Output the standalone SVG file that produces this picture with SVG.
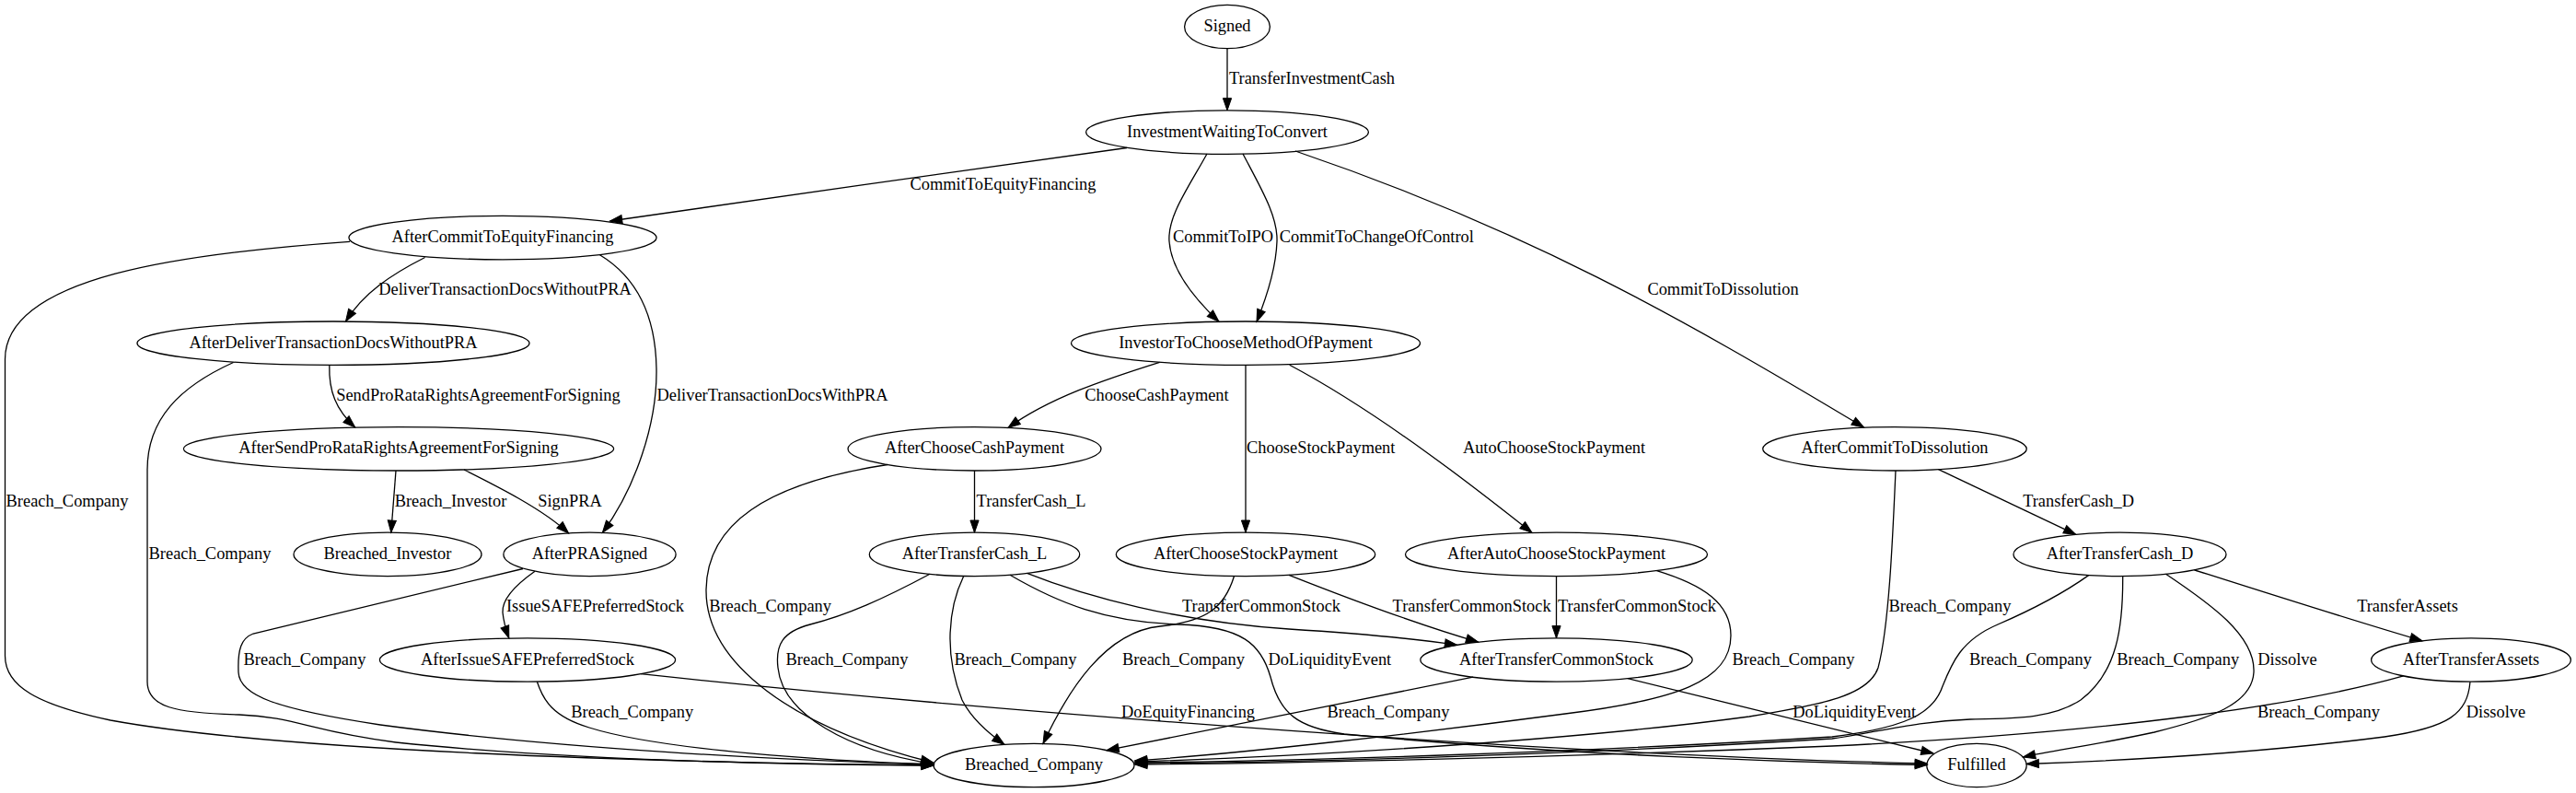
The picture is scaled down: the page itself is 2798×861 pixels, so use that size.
<svg xmlns="http://www.w3.org/2000/svg" width="2798" height="861" viewBox="0 0 2798 861">
<style>
.node ellipse{fill:none;stroke:#000;stroke-width:1.3}
text{font-family:"Liberation Serif","Times New Roman",serif;font-size:18.4px;text-anchor:middle;fill:#000}
#edges path{fill:none;stroke:#000;stroke-width:1.3;marker-end:url(#arr)}
</style>
<defs>
<marker id="arr" markerUnits="userSpaceOnUse" viewBox="0 0 14 10" markerWidth="14" markerHeight="10" refX="13.2" refY="4.6" orient="auto" overflow="visible">
<path d="M0,0 L13.2,4.6 L0,9.2 z" fill="#000" stroke="#000" stroke-width="1"/>
</marker>
</defs>
<rect width="2798" height="861" fill="#fff"/>
<g id="edges">
<g id="e1"><path d="M1333,52.7 L1333,119.9"/><text x="1425" y="91.3">TransferInvestmentCash</text></g>
<g id="e2"><path d="M1224,160.5 C1060,183 830,216 662.5,240"/><text x="1089.5" y="205.9">CommitToEquityFinancing</text></g>
<g id="e3"><path d="M1311,167 C1290,205 1268,235 1270,262 C1272,292 1295,322 1324,349.3"/><text x="1328.5" y="263.1">CommitToIPO</text></g>
<g id="e4"><path d="M1350,167 C1370,205 1388,235 1387,262 C1386,292 1376,322 1365,349.3"/><text x="1495.3" y="263.1">CommitToChangeOfControl</text></g>
<g id="e5"><path d="M1407,164 C1657,249 1824.5,344 2024.5,464"/><text x="1871.5" y="320.4">CommitToDissolution</text></g>
<g id="e6"><path d="M461.6,279.5 C425,298 395,318 375.5,349"/><text x="548.5" y="320.4">DeliverTransactionDocsWithoutPRA</text></g>
<g id="e7"><path d="M651.5,276.7 C690,300 712,340 713,400 C714,460 690,530 654.4,578.4"/><text x="839" y="435">DeliverTransactionDocsWithPRA</text></g>
<g id="e8"><path d="M380,262.3 C200,275 5.5,300 5.5,390 L5.5,712 C5.5,745 40,765 120,782 C300,815 700,828 1014,831"/><text x="73" y="549.6">Breach_Company</text></g>
<g id="e9"><path d="M357.8,396.4 C357,425 365,445 385.7,464"/><text x="519.5" y="435">SendProRataRightsAgreementForSigning</text></g>
<g id="e10"><path d="M253.5,393.5 C195,420 160,455 160,510 L160,740 C160,768 190,774 260,776 C320,778 340,795 430,806 C620,826 850,830 1014,831"/><text x="228" y="606.9">Breach_Company</text></g>
<g id="e11"><path d="M430,511 L424.8,578.2"/><text x="489.5" y="549.6">Breach_Investor</text></g>
<g id="e12"><path d="M504,510 C540,528 590,553 617.6,579"/><text x="619" y="549.6">SignPRA</text></g>
<g id="e13"><path d="M581,620.2 C560,635 545,650 546,665 C547,675 550,685 552.8,692.8"/><text x="646.5" y="664.2">IssueSAFEPreferredStock</text></g>
<g id="e14"><path d="M568,617.5 L275,688 C262,693 258,705 259,730 C260,755 300,770 413,787 C600,812 850,826 1014,830"/><text x="331" y="721.5">Breach_Company</text></g>
<g id="e15"><path d="M583.4,740.2 C590,760 600,778 640,790 C720,815 900,826 1014,830"/><text x="686.7" y="778.8">Breach_Company</text></g>
<g id="e16"><path d="M696,731.7 C1100,775 1700,820 2093.3,829"/><text x="1290.5" y="778.8">DoEquityFinancing</text></g>
<g id="e17"><path d="M1259.6,393.3 C1200,412 1140,432 1095,464.4"/><text x="1256.5" y="435">ChooseCashPayment</text></g>
<g id="e18"><path d="M1353,396.4 L1353,578.2"/><text x="1434.7" y="492.3">ChooseStockPayment</text></g>
<g id="e19"><path d="M1400.7,396.3 C1500.7,449.3 1610,535.6 1664,578.4"/><text x="1688" y="492.3">AutoChooseStockPayment</text></g>
<g id="e20"><path d="M1058.5,511 L1058.5,578.2"/><text x="1120" y="549.6">TransferCash_L</text></g>
<g id="e21"><path d="M964,504.5 C830,525 768,570 767,640 C766,720 860,790 1013.6,828"/><text x="836.6" y="664.2">Breach_Company</text></g>
<g id="e22"><path d="M1010,623.3 C960,650 920,668 880,678 C850,686 842,700 845,725 C850,775 920,815 1014,829.5"/><text x="920" y="721.5">Breach_Company</text></g>
<g id="e23"><path d="M1046.7,625.5 C1030,660 1025,710 1045,760 C1055,780 1072,795 1091,808.3"/><text x="1103" y="721.5">Breach_Company</text></g>
<g id="e24"><path d="M1115.5,622.4 C1180,648 1280,675 1400,683 C1480,688 1540,694 1582.6,700.3"/><text x="1370" y="664.2">TransferCommonStock</text></g>
<g id="e25"><path d="M1097,624.2 C1150,655 1200,675 1280,678 C1350,680 1370,700 1380,735 C1390,775 1410,790 1460,797 C1700,820 1950,828 2093.3,830.5"/><text x="1444.3" y="721.5">DoLiquidityEvent</text></g>
<g id="e26"><path d="M1400,624.3 C1460,648 1540,678 1605.6,697.1"/><text x="1598.6" y="664.2">TransferCommonStock</text></g>
<g id="e27"><path d="M1340.5,625.5 C1330,660 1310,675 1260,680 C1200,686 1160,750 1133,807.4"/><text x="1285.5" y="721.5">Breach_Company</text></g>
<g id="e28"><path d="M1690.5,625.6 L1690.5,692.8"/><text x="1778" y="664.2">TransferCommonStock</text></g>
<g id="e29"><path d="M1799.5,619.6 C1850,635 1880,655 1880,690 C1880,740 1820,760 1700,775 C1550,795 1350,818 1232.7,826"/><text x="1948" y="721.5">Breach_Company</text></g>
<g id="e30"><path d="M1600,735.2 L1202,814.7"/><text x="1508" y="778.8">Breach_Company</text></g>
<g id="e31"><path d="M1768,736.7 L2100,818"/><text x="2014.2" y="778.8">DoLiquidityEvent</text></g>
<g id="e32"><path d="M2105.5,509.7 L2254.7,580.3"/><text x="2257.6" y="549.6">TransferCash_D</text></g>
<g id="e33"><path d="M2059,511 C2056,580 2052,680 2040,725 C2030,755 1980,765 1900,778 C1700,805 1400,822 1232.7,827"/><text x="2118" y="664.2">Breach_Company</text></g>
<g id="e34"><path d="M2268.6,624.6 C2240,645 2200,665 2170,678 C2130,695 2120,720 2110,745 C2100,775 2070,790 1990,800 C1700,818 1400,826 1232.7,828"/><text x="2205.5" y="721.5">Breach_Company</text></g>
<g id="e35"><path d="M2305.7,625.6 C2306,680 2300,730 2260,760 C2230,780 2190,780 2140,781 C2080,783 2040,795 1990,802 C1700,820 1400,828 1232.7,829"/><text x="2365.7" y="721.5">Breach_Company</text></g>
<g id="e36"><path d="M2352.5,623.2 C2400,655 2450,690 2448,730 C2446,765 2400,780 2340,795 C2280,808 2230,815 2197.5,822"/><text x="2484.5" y="721.5">Dissolve</text></g>
<g id="e37"><path d="M2383.4,618.8 C2450,640 2550,672 2631,695.8"/><text x="2615" y="664.2">TransferAssets</text></g>
<g id="e38"><path d="M2610.6,733.9 C2500,765 2300,795 1990,810 C1700,822 1400,829 1232.7,830"/><text x="2518.5" y="778.8">Breach_Company</text></g>
<g id="e39"><path d="M2683,740.2 C2680,775 2660,790 2590,800 C2450,818 2300,826 2201.2,829.5"/><text x="2711" y="778.8">Dissolve</text></g>
</g>
<g id="n_Signed" class="node"><ellipse cx="1333" cy="29" rx="46.4" ry="23.7"/><text x="1333" y="34">Signed</text></g>
<g id="n_InvestmentWaitingToConvert" class="node"><ellipse cx="1333" cy="143.6" rx="153.4" ry="23.7"/><text x="1333" y="148.6">InvestmentWaitingToConvert</text></g>
<g id="n_AfterCommitToEquityFinancing" class="node"><ellipse cx="546" cy="258.1" rx="167.1" ry="23.7"/><text x="546" y="263.1">AfterCommitToEquityFinancing</text></g>
<g id="n_AfterDeliverTransactionDocsWithoutPRA" class="node"><ellipse cx="362" cy="372.7" rx="213" ry="23.7"/><text x="362" y="377.7">AfterDeliverTransactionDocsWithoutPRA</text></g>
<g id="n_InvestorToChooseMethodOfPayment" class="node"><ellipse cx="1353" cy="372.7" rx="189.5" ry="23.7"/><text x="1353" y="377.7">InvestorToChooseMethodOfPayment</text></g>
<g id="n_AfterSendProRataRightsAgreementForSigning" class="node"><ellipse cx="433" cy="487.3" rx="233.6" ry="23.7"/><text x="433" y="492.3">AfterSendProRataRightsAgreementForSigning</text></g>
<g id="n_AfterChooseCashPayment" class="node"><ellipse cx="1058.5" cy="487.3" rx="137.5" ry="23.7"/><text x="1058.5" y="492.3">AfterChooseCashPayment</text></g>
<g id="n_AfterCommitToDissolution" class="node"><ellipse cx="2058" cy="487.3" rx="143.3" ry="23.7"/><text x="2058" y="492.3">AfterCommitToDissolution</text></g>
<g id="n_Breached_Investor" class="node"><ellipse cx="421" cy="601.9" rx="102" ry="23.7"/><text x="421" y="606.9">Breached_Investor</text></g>
<g id="n_AfterPRASigned" class="node"><ellipse cx="640.5" cy="601.9" rx="93.6" ry="23.7"/><text x="640.5" y="606.9">AfterPRASigned</text></g>
<g id="n_AfterTransferCash_L" class="node"><ellipse cx="1058.5" cy="601.9" rx="114.2" ry="23.7"/><text x="1058.5" y="606.9">AfterTransferCash_L</text></g>
<g id="n_AfterChooseStockPayment" class="node"><ellipse cx="1353" cy="601.9" rx="140.7" ry="23.7"/><text x="1353" y="606.9">AfterChooseStockPayment</text></g>
<g id="n_AfterAutoChooseStockPayment" class="node"><ellipse cx="1690.5" cy="601.9" rx="164" ry="23.7"/><text x="1690.5" y="606.9">AfterAutoChooseStockPayment</text></g>
<g id="n_AfterTransferCash_D" class="node"><ellipse cx="2302.5" cy="601.9" rx="115.5" ry="23.7"/><text x="2302.5" y="606.9">AfterTransferCash_D</text></g>
<g id="n_AfterIssueSAFEPreferredStock" class="node"><ellipse cx="573" cy="716.5" rx="160.6" ry="23.7"/><text x="573" y="721.5">AfterIssueSAFEPreferredStock</text></g>
<g id="n_AfterTransferCommonStock" class="node"><ellipse cx="1690.5" cy="716.5" rx="147.7" ry="23.7"/><text x="1690.5" y="721.5">AfterTransferCommonStock</text></g>
<g id="n_AfterTransferAssets" class="node"><ellipse cx="2684" cy="716.5" rx="108.4" ry="23.7"/><text x="2684" y="721.5">AfterTransferAssets</text></g>
<g id="n_Breached_Company" class="node"><ellipse cx="1123" cy="831" rx="109" ry="23.7"/><text x="1123" y="836">Breached_Company</text></g>
<g id="n_Fulfilled" class="node"><ellipse cx="2147" cy="831" rx="54.2" ry="23.7"/><text x="2147" y="836">Fulfilled</text></g>
</svg>
